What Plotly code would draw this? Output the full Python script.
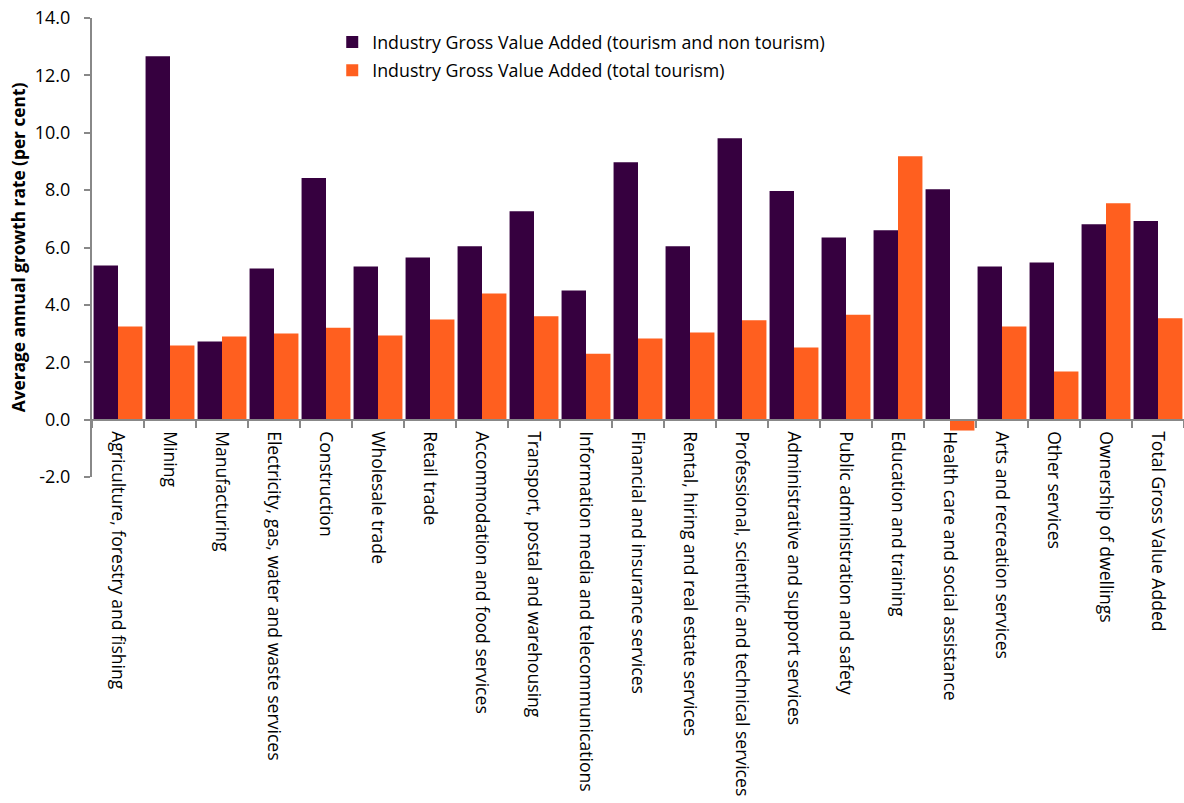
import plotly.graph_objects as go

categories = [
    "Agriculture, forestry and fishing", "Mining", "Manufacturing",
    "Electricity, gas, water and waste services", "Construction",
    "Wholesale trade", "Retail trade", "Accommodation and food services",
    "Transport, postal and warehousing", "Information media and telecommunications",
    "Financial and insurance services", "Rental, hiring and real estate services",
    "Professional, scientific and technical services",
    "Administrative and support services", "Public administration and safety",
    "Education and training", "Health care and social assistance",
    "Arts and recreation services", "Other services", "Ownership of dwellings",
    "Total Gross Value Added",
]
series_all = [5.37, 12.67, 2.72, 5.27, 8.42, 5.34, 5.65, 6.04, 7.26, 4.50,
              8.97, 6.04, 9.81, 7.97, 6.35, 6.60, 8.03, 5.34, 5.48, 6.81, 6.92]
series_tourism = [3.25, 2.58, 2.90, 3.00, 3.20, 2.93, 3.49, 4.40, 3.60, 2.30,
                  2.83, 3.04, 3.46, 2.51, 3.66, 9.18, -0.38, 3.25, 1.68, 7.54, 3.53]
name_all = "Industry Gross Value Added (tourism and non tourism)"
name_tourism = "Industry Gross Value Added (total tourism)"
y_ticks = [-2, 0, 2, 4, 6, 8, 10, 12, 14]
y_tick_labels = ["-2.0", "0.0", "2.0", "4.0", "6.0", "8.0", "10.0", "12.0", "14.0"]

FONT = "Open Sans, sans-serif"
AX = "#888888"

fig = go.Figure()
fig.add_trace(go.Bar(x=categories, y=series_all, name=name_all, legendgroup="a",
                     marker=dict(color="#36003F", line=dict(width=0))))
fig.add_trace(go.Bar(x=categories, y=series_tourism, name=name_tourism, legendgroup="b",
                     marker=dict(color="#FF5F1F", line=dict(width=0))))

fig.update_layout(
    width=1184, height=803,
    margin=dict(l=92, r=0, t=18, b=326, autoexpand=False),
    paper_bgcolor="white", plot_bgcolor="white",
    barmode="group", bargap=0.06, bargroupgap=0,
    font=dict(family=FONT, size=16, color="#000000"),
    legend=dict(x=0.22, y=0.987, xanchor="left", yanchor="top",
                font=dict(family=FONT, size=17.8), bgcolor="rgba(0,0,0,0)",
                tracegroupgap=2, itemwidth=30, traceorder="grouped"),
    showlegend=True,
)
fig.update_xaxes(
    type="category", anchor="free", position=0.125,
    showline=True, linecolor=AX, linewidth=2,
    ticks="outside", tickson="boundaries", ticklen=7, tickcolor=AX, tickwidth=2,
    tickangle=90, tickfont=dict(family=FONT, size=17.6), ticklabelstandoff=7,
    showgrid=False, automargin=False,
)
fig.update_yaxes(
    range=[-2, 14], tickvals=y_ticks, ticktext=y_tick_labels,
    showline=True, linecolor=AX, linewidth=2,
    ticks="outside", ticklen=6, tickcolor=AX, tickwidth=2,
    tickfont=dict(family=FONT, size=18), ticklabelstandoff=10,
    showgrid=False, zeroline=False, automargin=False,
    title=dict(text="<b>Average annual growth rate (per cent)</b>",
               font=dict(family=FONT, size=17.3), standoff=5),
)
fig.write_html("out.html")
